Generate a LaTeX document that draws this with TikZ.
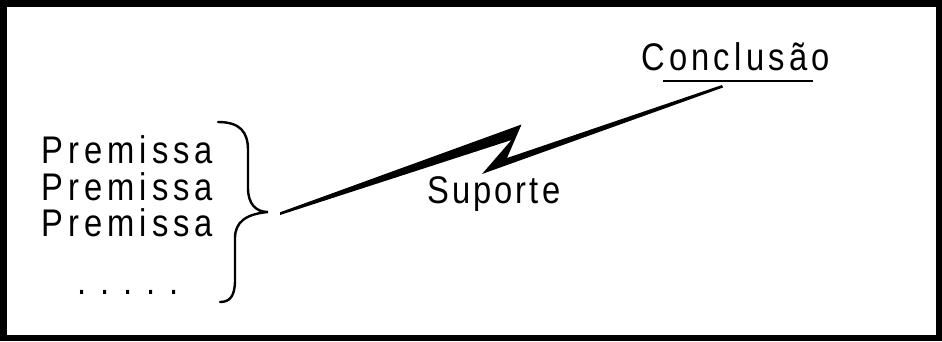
\documentclass[tikz,border=0pt]{standalone}
\usepackage{fontspec}
\setmainfont{Liberation Sans}
\newfontfamily\lblfont[FakeStretch=0.85]{Liberation Sans}
\begin{document}
\begin{tikzpicture}[x=1pt,y=-1pt,
  lbl/.style={inner sep=0pt, anchor=base west, font=\lblfont\fontsize{38.5}{38.5}\selectfont},
  bracestyle/.style={line width=2.4pt, line cap=round}]
\useasboundingbox (0,0) rectangle (942,341);
% frame
\fill[black] (0,0) rectangle (942,341);
\fill[white] (7,7) rectangle (936,335);
% texts
\node[lbl] (p1) at (41.5,163.5) {\addfontfeature{LetterSpace=13}Premissa};
\node[lbl] (p2) at (41.5,200) {\addfontfeature{LetterSpace=13}Premissa};
\node[lbl] (p3) at (41.5,236.5) {\addfontfeature{LetterSpace=13}Premissa};
\node[lbl] (dots) at (77,294) {.\hspace{14pt}.\hspace{14pt}.\hspace{14pt}.\hspace{14pt}.};
\node[lbl] (sup) at (427,203.3) {\addfontfeature{LetterSpace=8}Suporte};
\node[lbl] (conc) at (641,70) {\addfontfeature{LetterSpace=11}Conclusão};
% underline
\coordinate (u1) at (663,81);
\coordinate (u2) at (813,81);
\draw[line width=2pt] (u1) -- (u2);
% brace
\coordinate (btop) at (218,122);
\coordinate (btip) at (268,212);
\coordinate (bbot) at (220,302);
\draw[bracestyle] (btop) .. controls (240,122) and (248,132) .. (248,150)
  -- (248,188) .. controls (248,204) and (256,212) .. (btip)
  .. controls (246,214) and (235,222) .. (235,238)
  -- (235,280) .. controls (235,296) and (230,302) .. (bbot);
% lightning connector
\coordinate (A1) at (280,212.3);
\coordinate (A2) at (280,215);
\coordinate (T) at (521.5,124.5);
\coordinate (N2) at (507,158);
\coordinate (E1) at (722,85);
\coordinate (E2) at (723,87.5);
\coordinate (L) at (482,174);
\coordinate (N1) at (511.5,140);
\fill[black] (A1) -- (T) -- (N2) -- (E1) -- (E2) -- (L) -- (N1) -- (A2) -- cycle;
\end{tikzpicture}
\end{document}
